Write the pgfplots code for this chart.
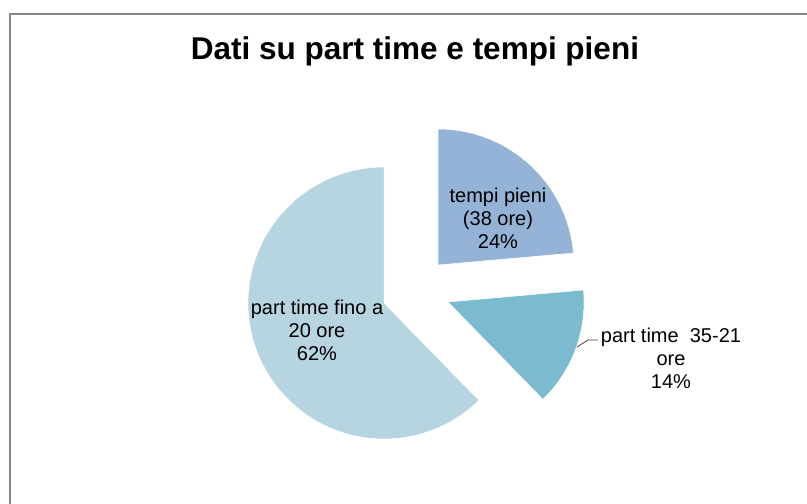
\documentclass[border=0pt]{standalone}
\usepackage{pgfplots}
\pgfplotsset{compat=1.18}
\usepackage{fontspec}
\setmainfont{Liberation Sans}

% shares in percent (labels rounded: 24%, 14%, 62%)
\def\vA{23.6}  % tempi pieni (38 ore)
\def\vB{14.1}  % part time 35-21 ore
\def\vC{62.3}  % part time fino a 20 ore

\definecolor{cA}{RGB}{149,179,215}
\definecolor{cB}{RGB}{123,186,207}
\definecolor{cC}{RGB}{183,213,224}
\definecolor{frame}{RGB}{134,134,134}

\begin{document}
\begin{tikzpicture}
\useasboundingbox (0,0) rectangle (807bp,504bp);
\pgfmathsetmacro{\aA}{90}
\pgfmathsetmacro{\aB}{90-3.6*\vA}
\pgfmathsetmacro{\aC}{\aB-3.6*\vB}
\pgfmathsetmacro{\aD}{\aC-3.6*\vC}
\def\r{136}
\begin{axis}[
  at={(0,0)}, anchor=south west,
  scale only axis, width=807bp, height=504bp,
  xmin=0, xmax=807, ymin=0, ymax=504,
  hide axis, clip=false,
]
% frame (left and top edges visible)
\draw[frame, line width=1.5bp] (10,0) -- (10,490) -- (807,490);
% slices
\addplot[fill=cA, draw=white, line width=0.5bp, domain=\aB:\aA, samples=120, variable=\t]
  ({438+\r*cos(t)}, {239+\r*sin(t)}) -- (438,239) -- cycle;
\addplot[fill=cB, draw=white, line width=0.5bp, domain=\aC:\aB, samples=120, variable=\t]
  ({448+\r*cos(t)}, {202+\r*sin(t)}) -- (448,202) -- cycle;
\addplot[fill=cC, draw=white, line width=0.5bp, domain=\aD:\aC, samples=200, variable=\t]
  ({384+\r*cos(t)}, {201+\r*sin(t)}) -- (384,201) -- cycle;
% title
\node[anchor=base, font=\fontsize{31.5bp}{36bp}\selectfont\bfseries] at (415,444) {Dati su part time e tempi pieni};
% labels
\node[align=center, font=\fontsize{20bp}{23bp}\selectfont, inner sep=0pt] at (498,286) {tempi pieni\\(38 ore)\\24\%};
\node[align=center, font=\fontsize{20bp}{23bp}\selectfont, inner sep=0pt] at (317,174) {part time fino a\\20 ore\\62\%};
\node[align=center, font=\fontsize{20bp}{23bp}\selectfont, inner sep=0pt] at (671,146) {part time\ \ 35-21\\ore\\14\%};
% leader line
\draw[black!75, line width=0.8bp] (577,157) -- (588,164) -- (598,164);
\end{axis}
\end{tikzpicture}
\end{document}
